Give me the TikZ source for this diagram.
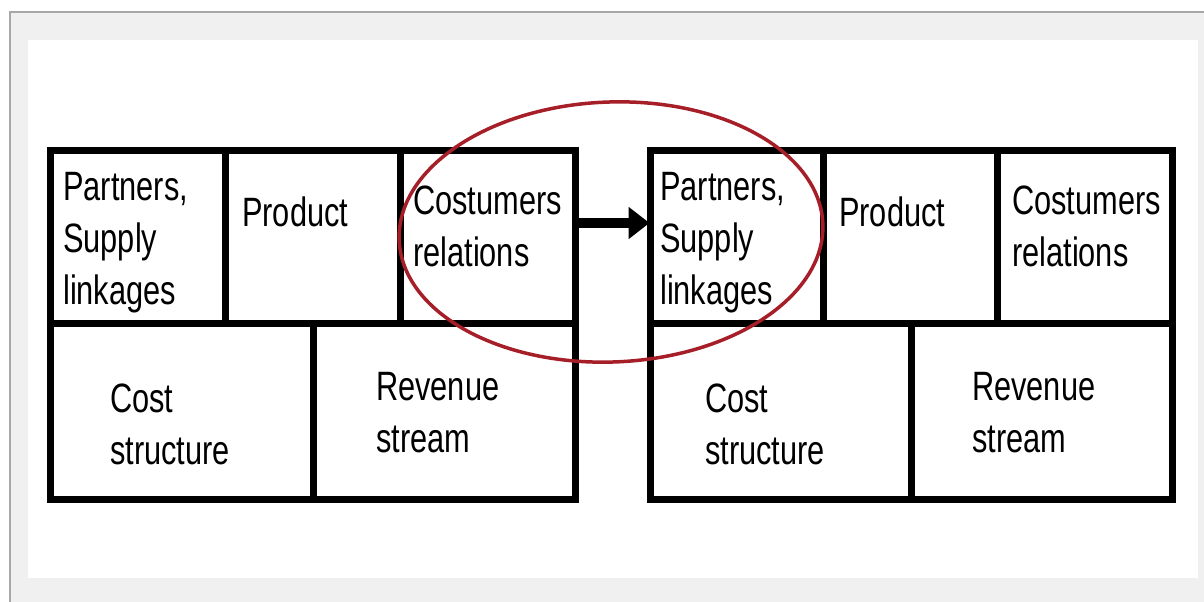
\documentclass[tikz,border=0pt]{standalone}
\usepackage{fontspec}
\setmainfont{Liberation Sans}[FakeStretch=0.75]
\usetikzlibrary{arrows.meta,shapes.geometric}
\definecolor{panelgray}{HTML}{F0F0F0}
\definecolor{bordergray}{HTML}{A8A8A8}
\definecolor{ellred}{RGB}{165,30,40}
\begin{document}
\begin{tikzpicture}[x=1pt,y=-1pt,
  cell/.style={draw=black, line width=7pt, inner sep=0pt, fill=none},
  lbl/.style={anchor=north west, inner sep=0pt, align=left, text=black,
              font=\fontsize{41}{52}\selectfont},
  ring/.style={draw=ellred, line width=3.5pt, ellipse, inner sep=0pt},
  conn/.style={draw=black, line width=10pt, -{Triangle[length=21pt,width=31pt]}}]
\useasboundingbox (0,0) rectangle (1204,602);
\fill[white] (0,0) rectangle (1204,602);
\fill[panelgray] (10,12) rectangle (1204,602);
\draw[bordergray, line width=2pt] (10,602) -- (10,12) -- (1204,12);
\fill[white] (28,40) rectangle (1198,578);

% left canvas
\node[cell, minimum width=175, minimum height=173] (L1) at (137.5,236.5) {};
\node[cell, minimum width=175, minimum height=173] (L2) at (312.5,236.5) {};
\node[cell, minimum width=175, minimum height=173] (L3) at (487.5,236.5) {};
\node[cell, minimum width=263, minimum height=176] (L4) at (181.5,411) {};
\node[cell, minimum width=262, minimum height=176] (L5) at (444,411) {};

% right canvas
\node[cell, minimum width=173, minimum height=173] (R1) at (736.5,236.5) {};
\node[cell, minimum width=174, minimum height=173] (R2) at (910,236.5) {};
\node[cell, minimum width=175, minimum height=173] (R3) at (1084.5,236.5) {};
\node[cell, minimum width=261, minimum height=176] (R4) at (780.5,411) {};
\node[cell, minimum width=261, minimum height=176] (R5) at (1041.5,411) {};

% labels left
\node[lbl] (tL1) at (63,172) {Partners,\\Supply\\linkages};
\node[lbl] (tL2) at (242,197) {Product};
\node[lbl] (tL3) at (413,186) {Costumers\\relations};
\node[lbl] (tL4) at (110,384) {Cost\\structure};
\node[lbl] (tL5) at (376,372) {Revenue\\stream};

% labels right
\node[lbl] (tR1) at (660,172) {Partners,\\Supply\\linkages};
\node[lbl] (tR2) at (839,197) {Product};
\node[lbl] (tR3) at (1012,186) {Costumers\\relations};
\node[lbl] (tR4) at (705,384) {Cost\\structure};
\node[lbl] (tR5) at (972,372) {Revenue\\stream};

% arrow
\draw[conn] ([yshift=13.5pt]L3.east) -- ([yshift=13.5pt,xshift=3pt]R1.west);

% red ellipse
\node[ring, minimum width=424, minimum height=260, rotate=2.2] (E) at (611,232) {};
\end{tikzpicture}
\end{document}
